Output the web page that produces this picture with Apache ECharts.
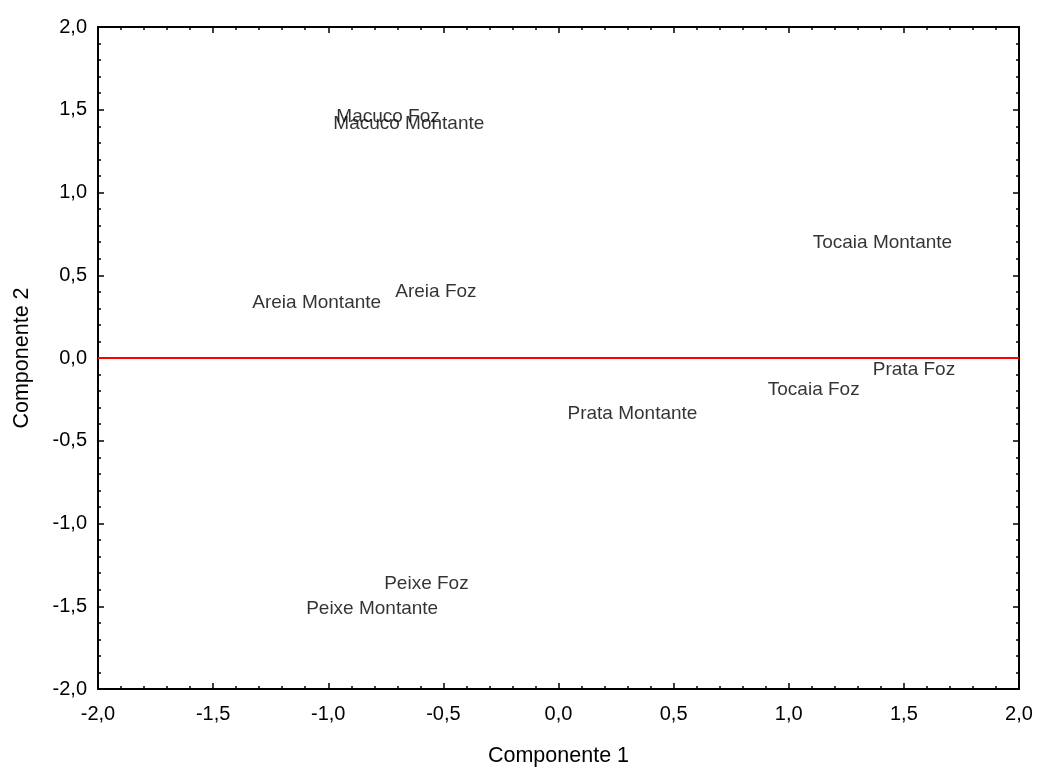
<!DOCTYPE html>
<html>
<head>
<meta charset="utf-8">
<script src="https://cdn.jsdelivr.net/npm/echarts@6/dist/echarts.min.js"></script>
<style>
  html, body { margin: 0; padding: 0; background: #fff; }
  #chart { width: 1037px; height: 767px; }
</style>
</head>
<body>
<div id="chart"></div>
<script>
// site names and their scores on the two components
var sites = ["Macuco Foz", "Macuco Montante", "Tocaia Montante", "Areia Montante", "Areia Foz",
             "Prata Foz", "Tocaia Foz", "Prata Montante", "Peixe Foz", "Peixe Montante"];
var comp1 = [-0.965, -0.978, 1.104, -1.330, -0.709, 1.365, 0.909, 0.039, -0.757, -1.096];
var comp2 = [1.456, 1.414, 0.695, 0.332, 0.399, -0.073, -0.193, -0.338, -1.363, -1.517];

var points = sites.map(function (s, i) {
  return { name: s, value: [comp1[i], comp2[i]] };
});

function fmt(v) {
  return v.toFixed(1).replace('.', ',');
}

var font = 'Liberation Sans, Arial, sans-serif';

function axisBase(show, margin) {
  return {
    type: 'value',
    min: -2,
    max: 2,
    interval: 0.5,
    axisLine: { show: true, onZero: false, lineStyle: { color: '#000', width: 2 } },
    axisTick: { show: true, inside: true, length: 6, lineStyle: { color: '#000', width: 1.5 } },
    minorTick: { show: true, splitNumber: 5, length: 3, lineStyle: { color: '#000', width: 1.5 } },
    splitLine: { show: false },
    axisLabel: { show: show, color: '#000', fontSize: 20, fontFamily: font, formatter: fmt, margin: margin }
  };
}

var chart = echarts.init(document.getElementById('chart'));

var xBottom = axisBase(true, 15);
xBottom.position = 'bottom';
xBottom.name = 'Componente 1';
xBottom.nameLocation = 'middle';
xBottom.nameGap = 56;
xBottom.nameTextStyle = { color: '#000', fontSize: 21.5, fontFamily: font };

var xTop = axisBase(false, 8);
xTop.position = 'top';

var yLeft = axisBase(true, 11);
yLeft.position = 'left';
yLeft.name = 'Componente 2';
yLeft.nameLocation = 'middle';
yLeft.nameGap = 65;
yLeft.nameTextStyle = { color: '#000', fontSize: 21.5, fontFamily: font };

var yRight = axisBase(false, 8);
yRight.position = 'right';

chart.setOption({
  backgroundColor: '#fff',
  animation: false,
  grid: { left: 98, right: 18, top: 27, bottom: 78, outerBoundsMode: 'none', containLabel: false },
  xAxis: [xBottom, xTop],
  yAxis: [yLeft, yRight],
  series: [{
    type: 'scatter',
    xAxisIndex: 0,
    yAxisIndex: 0,
    symbolSize: 0,
    data: points,
    label: {
      show: true,
      position: 'right',
      distance: 0,
      formatter: '{b}',
      color: '#000',
      fontSize: 19,
      fontFamily: font
    },
    markLine: {
      silent: true,
      symbol: 'none',
      label: { show: false },
      lineStyle: { color: '#ff0000', width: 2, type: 'solid' },
      data: [{ yAxis: 0 }]
    }
  }]
});
</script>
</body>
</html>
